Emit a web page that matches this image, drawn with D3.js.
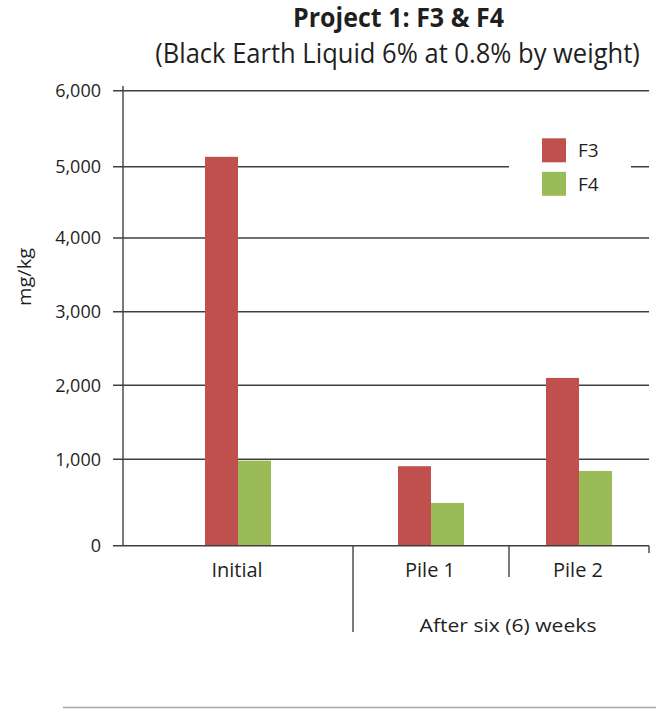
<!DOCTYPE html>
<html>
<head>
<meta charset="utf-8">
<script src="https://cdn.jsdelivr.net/npm/d3@7"></script>
<style>
  html, body { margin: 0; padding: 0; background: #fff; }
  svg { display: block; font-family: "Open Sans", "Noto Sans", sans-serif; }
</style>
</head>
<body>
<svg id="chart" width="662" height="709"></svg>
<script>
// ---- data ----
const categories = ["Initial", "Pile 1", "Pile 2"];
const groupLabel = "After six (6) weeks";
const seriesNames = ["F3", "F4"];
const f3Values = [5130, 920, 2100];
const f4Values = [985, 495, 865];
const yTicks = [0, 1000, 2000, 3000, 4000, 5000, 6000];
const titleText = "Project 1: F3 & F4";
const subtitleText = "(Black Earth Liquid 6% at 0.8% by weight)";
const yAxisTitle = "mg/kg";

// ---- layout ----
const colors = ["#C0504D", "#9BBB59"];
const axisColor = "#404040";
const textColor = "#1f1f1f";
const barW = 33;

const svg = d3.select("#chart");

// horizontally condensed text, fitted to a target width
function fitText(parent, txt, cx, cy, size, weight, targetW, rotate) {
  const g = parent.append("g");
  const t = g.append("text").attr("text-anchor", "middle")
    .attr("font-size", size).attr("font-weight", weight || "normal")
    .attr("fill", textColor).text(txt);
  const w = t.node().getComputedTextLength();
  const s = targetW / w;
  g.attr("transform", `translate(${cx},${cy})` + (rotate ? ` rotate(${rotate})` : "") + ` scale(${s},1)`);
  return g;
}

const x = d3.scaleLinear().domain([0, 1, 2, 3]).range([123, 353, 509, 649]);
const y = d3.scaleLinear().domain(yTicks).range([545.7, 459.3, 385.3, 311.7, 238, 166.7, 90.7]);

// titles
fitText(svg, titleText, 398.5, 27, 26, "bold", 211);
fitText(svg, subtitleText, 397.5, 63, 27, "normal", 485);

// gridlines
svg.append("g").selectAll("line").data(yTicks.filter(d => d > 0)).join("line")
  .attr("x1", 113).attr("x2", 649)
  .attr("y1", d => y(d)).attr("y2", d => y(d))
  .attr("stroke", axisColor).attr("stroke-width", 1.4);

// y tick labels
svg.append("g").selectAll("text").data(yTicks).join("text")
  .attr("x", 101).attr("y", d => y(d)).attr("dy", "0.36em")
  .attr("text-anchor", "end").attr("font-size", 18).attr("fill", textColor)
  .text(d => d3.format(",")(d));

// y axis title
fitText(svg, yAxisTitle, 31, 277, 19, "normal", 58, -90);

// bars
const data = categories.map((c, i) => ({ c, i, vals: [f3Values[i], f4Values[i]] }));
const groups = svg.append("g").selectAll("g").data(data).join("g");
groups.selectAll("rect").data(d => d.vals.map((v, s) => ({ v, s, i: d.i }))).join("rect")
  .attr("x", d => (x(d.i) + x(d.i + 1)) / 2 - barW + d.s * barW)
  .attr("width", barW)
  .attr("y", d => y(d.v))
  .attr("height", d => y(0) - y(d.v))
  .attr("fill", d => colors[d.s]);

// legend
svg.append("rect").attr("x", 509).attr("y", 132).attr("width", 122).attr("height", 72).attr("fill", "#fff");
const leg = svg.append("g").selectAll("g").data(seriesNames).join("g")
  .attr("transform", (d, i) => `translate(542,${138.3 + i * 33.5})`);
leg.append("rect").attr("width", 24).attr("height", 24).attr("fill", (d, i) => colors[i]);
leg.append("text").attr("x", 36).attr("y", 19).attr("font-size", 19).attr("fill", textColor).text(d => d);

// axis lines
svg.append("line").attr("x1", 123).attr("x2", 123).attr("y1", 86).attr("y2", y(0))
  .attr("stroke", axisColor).attr("stroke-width", 1.4);
svg.append("line").attr("x1", 113).attr("x2", 649).attr("y1", y(0)).attr("y2", y(0))
  .attr("stroke", axisColor).attr("stroke-width", 1.4);

// category separators (multi-level axis)
const sepEnds = [632, 577, 553];
[1, 2, 3].forEach((b, k) => {
  svg.append("line").attr("x1", x(b)).attr("x2", x(b)).attr("y1", y(0)).attr("y2", sepEnds[k])
    .attr("stroke", axisColor).attr("stroke-width", 1.4);
});

// category labels
svg.append("g").selectAll("text").data(categories).join("text")
  .attr("x", (d, i) => (x(i) + x(i + 1)) / 2 - 1)
  .attr("y", 577).attr("text-anchor", "middle").attr("font-size", 20).attr("fill", textColor)
  .text(d => d);

// group label
fitText(svg, groupLabel, (x(1) + x(3)) / 2 + 7, 632, 19, "normal", 177);

// bottom rule
svg.append("line").attr("x1", 63).attr("x2", 656).attr("y1", 707.5).attr("y2", 707.5)
  .attr("stroke", "#a6a6a6").attr("stroke-width", 1.5);
</script>
</body>
</html>
